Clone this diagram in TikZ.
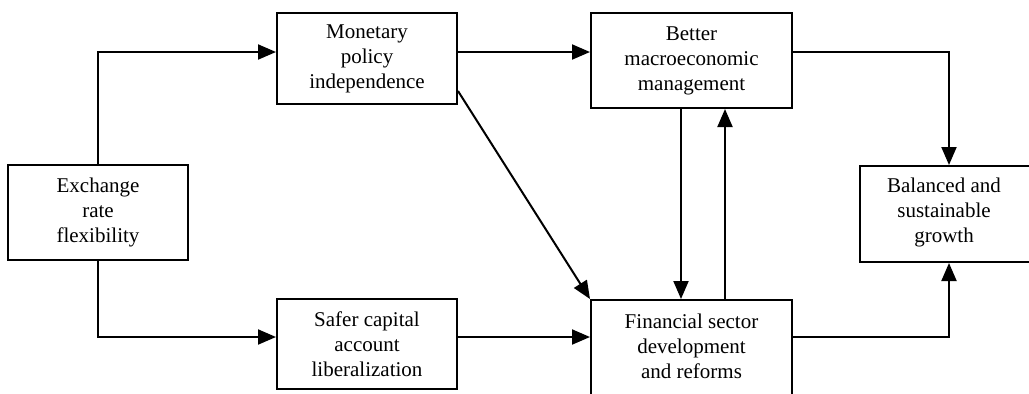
\documentclass[tikz,border=0pt]{standalone}
\usepackage{fontspec}
\setmainfont{Liberation Serif}
\usetikzlibrary{arrows.meta,calc}
\tikzset{
  box/.style={draw, line width=1pt, rectangle, inner sep=0pt, align=center,
    font=\fontsize{10.5pt}{12.5pt}\selectfont},
  txt/.style={inner sep=0pt, align=center, font=\fontsize{10.5pt}{12.5pt}\selectfont},
  conn/.style={line width=1pt},
  arr/.style={line width=1pt, -{Triangle[length=9pt,width=7.5pt]}}
}
\begin{document}
\begin{tikzpicture}[x=0.5pt,y=-0.5pt]
\clip (0,0) rectangle (1029,393);
\fill[white] (0,0) rectangle (1029,393);
% nodes
\node[box, minimum width=90pt, minimum height=47.5pt] (ex) at (98,212.5) {Exchange\\rate\\flexibility};
\node[box, minimum width=90pt, minimum height=45.5pt] (mon) at (367,58.5) {Monetary\\policy\\independence};
\node[box, minimum width=90pt, minimum height=45pt] (sar) at (367,344) {Safer capital\\account\\liberalization};
\node[box, minimum width=100.5pt, minimum height=47.5pt] (bet) at (691.5,60.5) {Better\\macroeconomic\\management};
\node[box, minimum width=100.5pt, minimum height=65pt, anchor=north] (fin) at (691.5,299) {};
\node[txt] (fintext) at (691.5,346) {Financial sector\\development\\and reforms};
\node[box, minimum width=87pt, minimum height=48pt, anchor=north west] (bal) at (859,165) {};
\node[txt] (baltext) at (944,212) {Balanced and\\sustainable\\growth};
% helper coordinates
\coordinate (ya) at (0,52);
\coordinate (yb) at (0,337);
\coordinate (xb) at (949,0);
\coordinate (xd) at (681,0);
\coordinate (xu) at (725,0);
% connectors
\draw[arr] (ex.north) |- (ya -| mon.west);
\draw[arr] (ex.south) |- (yb -| sar.west);
\draw[arr] (ya -| mon.east) -- (ya -| bet.west);
\draw[arr] (yb -| sar.east) -- (yb -| fin.west);
\draw[arr] ($(mon.south east)+(0,-14)$) -- (fin.north west);
\draw[arr] (ya -| bet.east) -| (xb |- bal.north);
\draw[arr] (yb -| fin.east) -| (xb |- bal.south);
\draw[arr] (xd |- bet.south) -- (xd |- fin.north);
\draw[arr] (xu |- fin.north) -- (xu |- bet.south);
\end{tikzpicture}
\end{document}
